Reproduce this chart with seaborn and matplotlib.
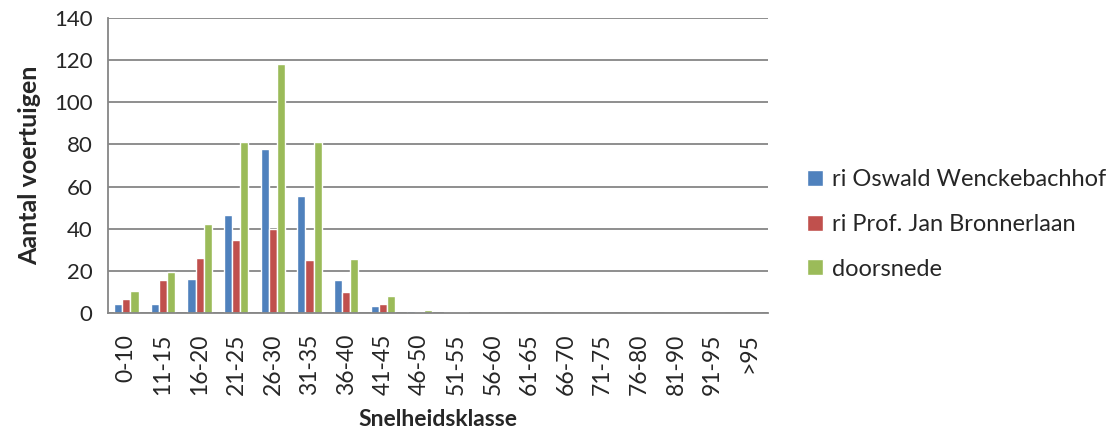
import pandas as pd
import seaborn as sns
import matplotlib.pyplot as plt

klassen = ['0-10', '11-15', '16-20', '21-25', '26-30', '31-35', '36-40', '41-45', '46-50',
           '51-55', '56-60', '61-65', '66-70', '71-75', '76-80', '81-90', '91-95', '>95']
wenckebach = [4, 4, 16, 46.5, 78, 55.5, 15.5, 3.5, 1, 0.3, 0, 0, 0, 0, 0, 0, 0, 0]
bronnerlaan = [6.5, 15.5, 26, 34.5, 40, 25, 10, 4.3, 0.5, 0.2, 0, 0, 0, 0, 0, 0, 0, 0]
doorsnede = [10.5, 19.5, 42, 81, 118, 81, 25.5, 7.8, 1.5, 0.6, 0, 0, 0, 0, 0, 0, 0, 0]

reeksen = ['ri Oswald Wenckebachhof', 'ri Prof. Jan Bronnerlaan', 'doorsnede']
kleuren = ['#4F81BD', '#C0504D', '#9BBB59']

df = pd.DataFrame({
    'klasse': klassen * 3,
    'aantal': wenckebach + bronnerlaan + doorsnede,
    'reeks': [r for r in reeksen for _ in klassen],
})

sns.set_style('white')
plt.rcParams['font.family'] = ['Lato', 'DejaVu Sans']

fig = plt.figure(figsize=(11.2, 4.34), dpi=100)
ax = fig.add_axes([0.0964, 0.279, 0.589, 0.6795])
sns.barplot(data=df, x='klasse', y='aantal', hue='reeks', palette=kleuren,
            width=0.667, saturation=1, ax=ax, legend=True)

ax.set_ylim(0, 140)
ax.set_xlim(-0.5, len(klassen) - 0.5)
ax.set_yticks(range(0, 141, 20))
ax.yaxis.grid(True, color='#868686', linewidth=1.3)
ax.set_axisbelow(True)
for s in ['top', 'right']:
    ax.spines[s].set_visible(False)
for s in ['left', 'bottom']:
    ax.spines[s].set_color('#868686')
    ax.spines[s].set_linewidth(1.3)

ax.set_xticks(range(len(klassen)))
ax.set_xticklabels(klassen, rotation=90, fontsize=16.5)
ax.set_xticks([i - 0.5 for i in range(len(klassen) + 1)], minor=True)
ax.tick_params(axis='x', which='major', length=0, pad=15)
ax.tick_params(axis='x', which='minor', length=5, width=1.3, color='#868686', direction='out')
ax.tick_params(axis='y', length=5, width=1.3, color='#868686', direction='out', labelsize=16, pad=6)

ax.set_xlabel('Snelheidsklasse', fontsize=16.5, fontweight='bold', labelpad=10)
ax.set_ylabel('Aantal voertuigen', fontsize=18, fontweight='bold', labelpad=9)

ax.legend(loc='center left', bbox_to_anchor=(1.06, 0.30), frameon=False, fontsize=17,
          handlelength=0.66, handleheight=0.66, handletextpad=0.38, labelspacing=1.0,
          borderaxespad=0, borderpad=0, title=None)

fig.savefig('out.png', dpi=100)
